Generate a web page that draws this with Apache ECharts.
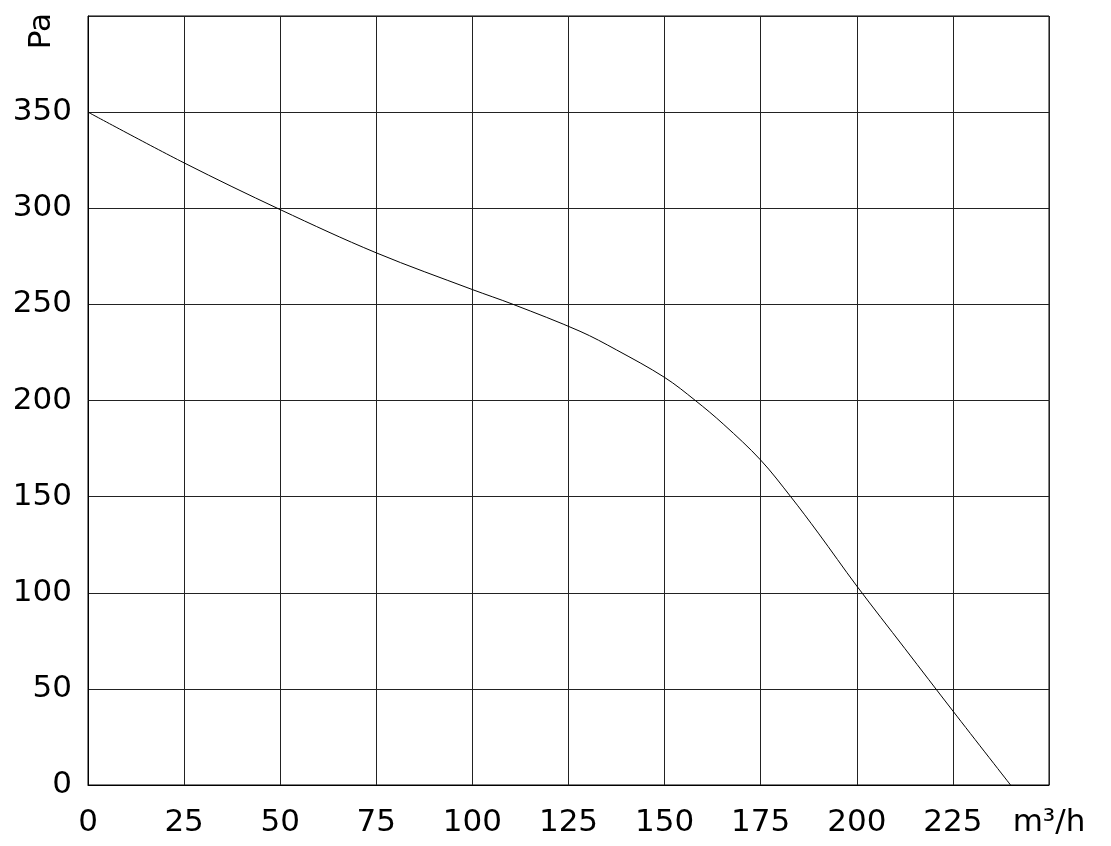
<!DOCTYPE html>
<html>
<head>
<meta charset="utf-8">
<script src="https://cdn.jsdelivr.net/npm/echarts@6/dist/echarts.min.js"></script>
<style>html,body{margin:0;padding:0;background:#fff}#c{width:1111px;height:846px}</style>
</head>
<body>
<div id="c"></div>
<script>
const flow = [0, 25, 50, 75, 100, 110.6, 128, 137.5, 150, 158, 165.4, 175, 182.8, 190, 200, 212.5, 225, 240];
const pressure = [350, 323.6, 299.3, 276.8, 257.7, 250, 236, 226.3, 212, 200, 187.5, 169, 150, 131, 103.5, 71, 38.5, 0];
const xTicks = ['0', '25', '50', '75', '100', '125', '150', '175', '200', '225', 'm³/h'];
const yTicks = ['0', '50', '100', '150', '200', '250', '300', '350', ''];
const yUnit = 'Pa';

const chart = echarts.init(document.getElementById('c'));
const font = 'DejaVu Sans';
chart.setOption({
  animation: false,
  grid: { left: 88, right: 62, top: 16, bottom: 61, show: true, borderColor: '#000', borderWidth: 1 },
  xAxis: {
    type: 'value', min: 0, max: 250, interval: 25,
    axisLine: { show: true, lineStyle: { color: '#000', width: 1 } },
    axisTick: { show: false },
    splitLine: { show: true, lineStyle: { color: '#222', width: 1 } },
    axisLabel: {
      margin: 22, color: '#000', fontSize: 31, fontFamily: font,
      formatter: (v) => xTicks[Math.round(v / 25)]
    }
  },
  yAxis: {
    type: 'value', min: 0, max: 400, interval: 50,
    axisLine: { show: true, lineStyle: { color: '#000', width: 1 } },
    axisTick: { show: false },
    splitLine: { show: true, lineStyle: { color: '#222', width: 1 } },
    axisLabel: {
      margin: 16, color: '#000', fontSize: 31, fontFamily: font, padding: [6, 0, 0, 0],
      formatter: (v) => yTicks[Math.round(v / 50)]
    }
  },
  graphic: [{
    type: 'text', left: 26, top: 13, rotation: Math.PI / 2,
    style: { text: yUnit, fontSize: 31, fontFamily: font, fill: '#000' }
  }],
  series: [{
    type: 'line', smooth: 0.35, symbol: 'none',
    lineStyle: { color: '#000', width: 1 },
    data: flow.map((x, i) => [x, pressure[i]])
  }]
});
</script>
</body>
</html>
